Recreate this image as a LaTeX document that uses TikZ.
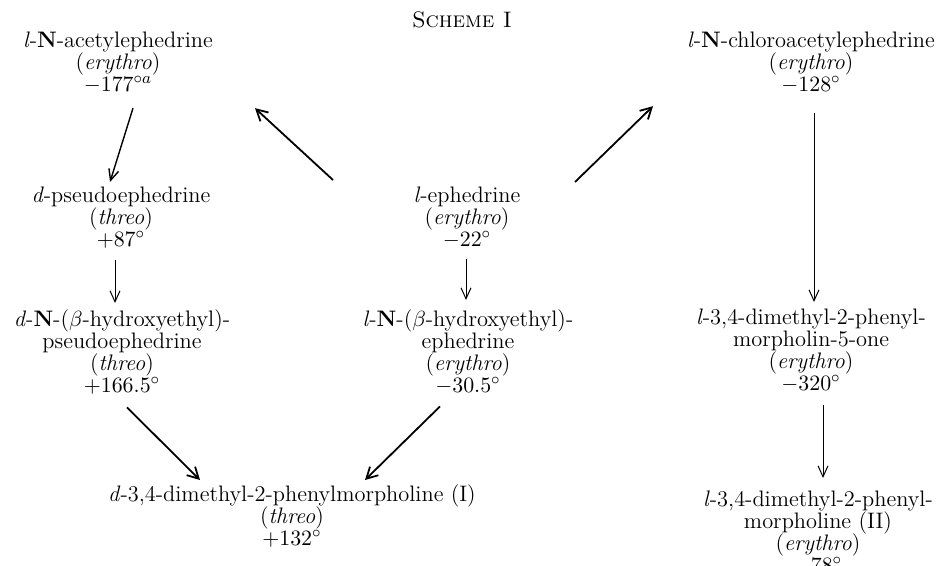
\documentclass[tikz,border=0pt]{standalone}
\usepackage{fontspec}
\usetikzlibrary{arrows.meta}

\begin{document}
\begin{tikzpicture}[x=0.5pt, y=-0.5pt]
    \tikzstyle{every node} = [align=center, inner sep=0pt, font={\fontsize{11.2}{11}\selectfont\lineskiplimit=-20pt}]
    \tikzstyle{compound} = [anchor=north]
    \tikzstyle{reaction} = [line width=0.5pt, -{Straight Barb[length=5.5pt, width=5pt]}]
    \tikzstyle{major} = [line width=0.9pt, -{Straight Barb[length=5.5pt, width=6pt]}]
    \useasboundingbox (0,0) rectangle (942,566);
    \clip (0,0) rectangle (942,566);
    \node (title) at (462,20) {\textsc{Scheme I}};
    \node [compound] (acetyl) at (118,32)
        {\textit{l}-\textbf{N}-acetylephedrine\\(\textit{erythro})\\$-177^{\circ a}$};
    \node [compound] (chloro) at (811,32)
        {\textit{l}-\textbf{N}-chloroacetylephedrine\\(\textit{erythro})\\$-128^\circ$};
    \node [compound] (pseudo) at (121,187)
        {\textit{d}-pseudoephedrine\\(\textit{threo})\\$+87^\circ$};
    \node [compound] (ephedrine) at (467,187)
        {\textit{l}-ephedrine\\(\textit{erythro})\\$-22^\circ$};
    \node [compound] (hepseudo) at (122,309)
        {\textit{d}-\textbf{N}-($\beta$-hydroxyethyl)-\\pseudoephedrine\\(\textit{threo})\\$+166.5^\circ$};
    \node [compound] (heephedrine) at (468,309)
        {\textit{l}-\textbf{N}-($\beta$-hydroxyethyl)-\\ephedrine\\(\textit{erythro})\\$-30.5^\circ$};
    \node [compound] (morpholinone) at (811,309)
        {\textit{l}-3,4-dimethyl-2-phenyl-\\morpholin-5-one\\(\textit{erythro})\\$-320^\circ$};
    \node [compound] (morphII) at (818,491)
        {\textit{l}-3,4-dimethyl-2-phenyl-\\morpholine (II)\\(\textit{erythro})\\$-78^\circ$};
    \node [compound] (morphI) at (292,484)
        {\textit{d}-3,4-dimethyl-2-phenylmorpholine (I)\\(\textit{threo})\\$+132^\circ$};
    \draw [reaction, line width=0.7pt] ([shift={(15,14)}]acetyl.south) -- ([shift={(-11,-5)}]pseudo.north);
    \draw [major] ([shift={(-134,-7)}]ephedrine.north) -- ([shift={(137,14)}]acetyl.south);
    \draw [major] ([shift={(108,-5)}]ephedrine.north) -- ([shift={(-158,12)}]chloro.south);
    \draw [reaction] ([shift={(-6,11)}]pseudo.south) -- ([shift={(-7,-6)}]hepseudo.north);
    \draw [reaction] ([shift={(-1,10)}]ephedrine.south) -- ([shift={(-2,-9)}]heephedrine.north);
    \draw [reaction] ([shift={(3,19)}]chloro.south) -- ([shift={(3,-7)}]morpholinone.north);
    \draw [reaction] ([shift={(12,12)}]morpholinone.south) -- ([shift={(5,-13)}]morphII.north);
    \draw [major] ([shift={(5,13)}]hepseudo.south) -- ([shift={(-92,-4)}]morphI.north);
    \draw [major] ([shift={(-28,12)}]heephedrine.south) -- ([shift={(73,-4)}]morphI.north);
\end{tikzpicture}
\end{document}
